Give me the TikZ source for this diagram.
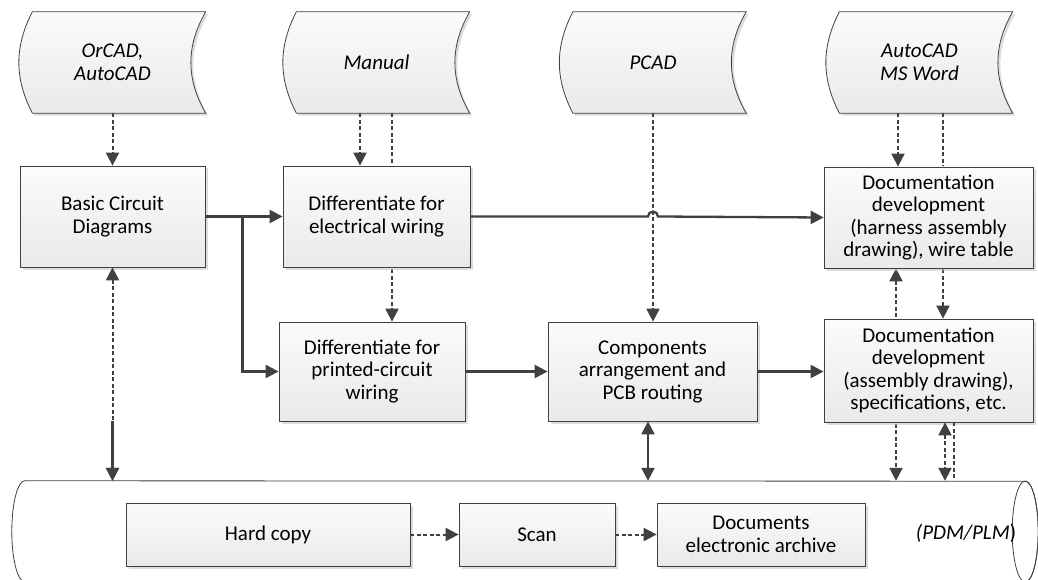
\documentclass[tikz,border=0pt]{standalone}
\usepackage{fontspec}
\setmainfont{Carlito}
\usetikzlibrary{arrows.meta}
\usetikzlibrary{positioning}
\usetikzlibrary{calc}
\usetikzlibrary{backgrounds}
\usetikzlibrary{shadows}

\begin{document}
\begin{tikzpicture}[
    x=1pt, y=-1pt,
    >={Triangle[length=13pt, width=13pt]},
    txt/.style={font=\fontsize{21}{22.5}\selectfont},
    box/.style={
        txt, draw=black!75, line width=0.8pt,
        top color=gray!3, bottom color=gray!17,
        drop shadow={shadow xshift=2.5pt, shadow yshift=-2.5pt,
                     fill=gray!45, opacity=0.6},
        minimum height=101pt, inner sep=1pt,
        align=center
    },
    store/.style={
        font=\fontsize{21}{22.5}\selectfont\itshape,
        minimum width=186pt, minimum height=101pt,
        inner sep=0pt, align=center
    },
    storeline/.style={
        draw=black!75, line width=0.8pt,
        top color=gray!3, bottom color=gray!17,
        drop shadow={shadow xshift=2.5pt, shadow yshift=-2.5pt,
                     fill=gray!45, opacity=0.6}
    },
    flow/.style={draw=black!75, line width=2.3pt},
    dflow/.style={flow, line width=2pt, dash pattern=on 4pt off 2.5pt}
]
\useasboundingbox (0,0) rectangle (1038,580);

% tools
\node[store] (orcad)   at (112.5,62.5) {OrCAD,\\AutoCAD};
\node[store] (manual)  at (376.5,62.5) {Manual};
\node[store] (pcad)    at (653,62.5)   {PCAD};
\node[store] (autocad) at (919.5,62.5) {AutoCAD\\MS Word};

% design steps
\node[box, minimum width=185pt] (basic) at (112.5,216.5) {Basic Circuit\\Diagrams};
\node[box, minimum width=187pt] (dielec) at (376.5,216.5) {Differentiate for\\electrical wiring};
\node[box, minimum width=209pt] (ddoc1) at (928.5,217.5) {Documentation\\development\\(harness assembly\\drawing), wire table};
\node[box, minimum width=186pt, minimum height=99pt] (dprint) at (372,371.5) {Differentiate for\\printed-circuit\\wiring};
\node[box, minimum width=209pt, minimum height=99pt] (comp) at (652.5,371.5) {Components\\arrangement and\\PCB routing};
\node[box, minimum width=209pt, minimum height=103pt] (ddoc2) at (928.5,370.5) {Documentation\\development\\(assembly drawing),\\specifications, etc.};

% archive
\node[minimum width=1026pt, minimum height=101pt, inner sep=0pt] (pdm) at (525,531.5) {};
\node[box, minimum width=284pt, minimum height=63pt] (hard) at (268,534.5) {Hard copy};
\node[box, minimum width=156pt, minimum height=63pt] (scan) at (537,534.5) {Scan};
\node[box, minimum width=208pt, minimum height=63pt] (arch) at (761,534.5) {Documents\\electronic archive};
\node[txt] (pdmtext) at (966,533) {\textit{(PDM/PLM})};

\begin{scope}[on background layer]
\draw[draw=black!75, line width=0.8pt, fill=white]
    ([xshift=13pt]pdm.north west) arc[x radius=13pt, y radius=50.5pt, start angle=90, end angle=270]
    -- ([xshift=-13pt]pdm.south east) arc[x radius=13pt, y radius=50.5pt, start angle=270, end angle=450]
    -- cycle;
\draw[draw=black!75, line width=0.8pt] ([xshift=-13pt]pdm.east) ellipse[x radius=13pt, y radius=50.5pt];
\foreach \n in {orcad,manual,pcad,autocad}
    \draw[storeline] ([xshift=13pt]\n.north west) to[bend right=27] ([xshift=13pt]\n.south west)
        -- (\n.south east) to[bend left=30] (\n.north east) -- cycle;
% links running behind the boxes
\draw[dflow, ->] ([xshift=15.5pt]manual.south) -- ([xshift=15.5pt]manual.south |- dprint.north);
\draw[dflow, ->] ([xshift=23.5pt]autocad.south) -- ([xshift=23.5pt]autocad.south |- ddoc2.north);
\draw[dflow, <->] ([xshift=-32.5pt]ddoc1.south) -- ([xshift=-32.5pt]ddoc1.south |- pdm.north);
\end{scope}

\draw[dflow, ->] (orcad) -- (basic);
\draw[dflow, ->] ([xshift=-16.5pt]manual.south) -- ([xshift=-16.5pt]dielec.north);
\draw[dflow, ->] (pcad.south) -- (pcad.south |- comp.north);
\draw[dflow, ->] ([xshift=-21.5pt]autocad.south) -- ([xshift=-21.5pt]autocad.south |- ddoc1.north);

\draw[flow, ->] (basic) -- (dielec);
\draw[flow, ->] (basic.east) -- ++(37,0) |- (dprint);
\draw[flow, ->] (dielec.east) -- ($(pcad.south |- dielec.east)+(-5,0)$)
    arc[start angle=180, end angle=0, radius=5pt] -- (ddoc1.west);
\draw[flow, ->] (dprint) -- (comp);
\draw[flow, ->] (comp.east) -- (comp.east -| ddoc2.west);

\draw[dflow, <->] (basic.south) -- (basic.south |- pdm.north);
\draw[flow, ->] (basic.south |- dprint.south) -- (basic.south |- pdm.north);
\draw[flow, <->] ([xshift=-4.5pt]comp.south) -- ([xshift=-4.5pt]comp.south |- pdm.north);
\draw[dflow, <->] ([xshift=16.5pt]ddoc2.south) -- ([xshift=16.5pt]ddoc2.south |- pdm.north);
\draw[dflow] ([xshift=25.5pt]ddoc2.south) -- ([xshift=25.5pt]ddoc2.south |- pdm.north);

\draw[dflow, ->] (hard) -- (scan);
\draw[dflow, ->] (scan) -- (arch);
\end{tikzpicture}
\end{document}
